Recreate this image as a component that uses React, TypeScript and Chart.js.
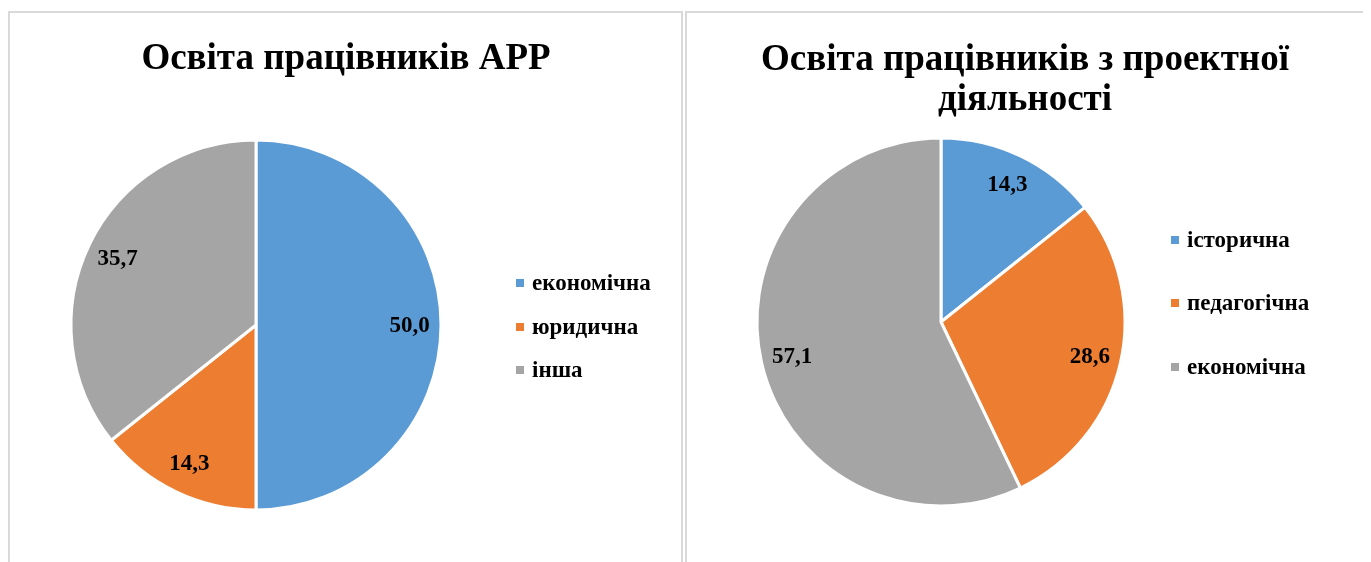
import { useEffect, useRef } from "react";
import { Chart, registerables } from "chart.js";

Chart.register(...registerables);

const leftTitle = ["Освіта працівників АРР"];
const leftCategories = ["економічна", "юридична", "інша"];
const leftValues = [50.0, 14.3, 35.7];

const rightTitle = ["Освіта працівників з проектної", "діяльності"];
const rightCategories = ["історична", "педагогічна", "економічна"];
const rightValues = [14.3, 28.6, 57.1];

const sliceColors = ["#5B9BD5", "#ED7D31", "#A5A5A5"];

const FONT = '"Liberation Serif", "Times New Roman", serif';

type Layout = {
  width: number;
  height: number;
  padding: { left: number; right: number; top: number; bottom: number };
  titleX: number;
  titleBaselines: number[];
  legendX: number;
  legendRows: number[];
};

function makeOverlay(title: string[], categories: string[], layout: Layout) {
  return {
    id: "overlay",
    afterDatasetsDraw(chart: any) {
      const ctx = chart.ctx as CanvasRenderingContext2D;
      ctx.save();
      // title
      ctx.fillStyle = "#000";
      ctx.font = `bold 37px ${FONT}`;
      ctx.textAlign = "center";
      ctx.textBaseline = "alphabetic";
      title.forEach((line, i) => ctx.fillText(line, layout.titleX, layout.titleBaselines[i]));
      // data labels
      const meta = chart.getDatasetMeta(0);
      const values = chart.data.datasets[0].data as number[];
      ctx.font = `bold 23px ${FONT}`;
      ctx.textAlign = "center";
      ctx.textBaseline = "middle";
      meta.data.forEach((arc: any, i: number) => {
        const p = arc.getProps(["x", "y", "startAngle", "endAngle", "outerRadius"], true);
        const mid = (p.startAngle + p.endAngle) / 2;
        const r = p.outerRadius * 0.83;
        const x = p.x + Math.cos(mid) * r;
        const y = p.y + Math.sin(mid) * r;
        ctx.fillText(values[i].toFixed(1).replace(".", ","), x, y + 1);
      });
      // legend
      ctx.font = `bold 23px ${FONT}`;
      ctx.textAlign = "left";
      ctx.textBaseline = "middle";
      categories.forEach((c, i) => {
        const cy = layout.legendRows[i];
        ctx.fillStyle = sliceColors[i];
        ctx.fillRect(layout.legendX, cy - 4, 8, 8);
        ctx.fillStyle = "#000";
        ctx.fillText(c, layout.legendX + 16, cy + 1);
      });
      ctx.restore();
    },
  };
}

function PieBox(props: {
  title: string[];
  categories: string[];
  values: number[];
  layout: Layout;
  boxStyle: React.CSSProperties;
}) {
  const ref = useRef<HTMLCanvasElement | null>(null);
  useEffect(() => {
    if (!ref.current) return;
    const { layout } = props;
    const chart = new Chart(ref.current, {
      type: "pie",
      data: {
        labels: props.categories,
        datasets: [
          {
            data: props.values,
            backgroundColor: sliceColors,
            borderColor: "#ffffff",
            borderWidth: 3,
          },
        ],
      },
      options: {
        responsive: false,
        animation: false,
        devicePixelRatio: 1,
        layout: { padding: layout.padding },
        plugins: {
          legend: { display: false },
          title: { display: false },
          tooltip: { enabled: false },
        },
      },
      plugins: [makeOverlay(props.title, props.categories, layout)],
    });
    return () => chart.destroy();
  }, []);
  return (
    <div style={props.boxStyle}>
      <canvas
        ref={ref}
        width={props.layout.width}
        height={props.layout.height}
        style={{ display: "block", width: props.layout.width, height: props.layout.height }}
      />
    </div>
  );
}

const leftLayout: Layout = {
  width: 671,
  height: 549,
  padding: { left: 59.5, right: 238.5, top: 125.5, bottom: 50.5 },
  titleX: 336,
  titleBaselines: [56],
  legendX: 506,
  legendRows: [270, 314, 357],
};

const rightLayout: Layout = {
  width: 684,
  height: 549,
  padding: { left: 68.5, right: 244.5, top: 123.5, bottom: 54.5 },
  titleX: 338,
  titleBaselines: [57, 97],
  legendX: 484,
  legendRows: [227, 290, 354],
};

export default function App() {
  const box: React.CSSProperties = {
    position: "absolute",
    top: 3,
    height: 700,
    boxSizing: "border-box",
    border: "2px solid #d9d9d9",
    background: "#fff",
    overflow: "hidden",
  };
  return (
    <div style={{ position: "relative", width: 1363, height: 554, overflow: "hidden", background: "#fff" }}>
      <PieBox
        title={leftTitle}
        categories={leftCategories}
        values={leftValues}
        layout={leftLayout}
        boxStyle={{ ...box, left: 0, width: 675 }}
      />
      <PieBox
        title={rightTitle}
        categories={rightCategories}
        values={rightValues}
        layout={rightLayout}
        boxStyle={{ ...box, left: 677, width: 720 }}
      />
    </div>
  );
}
